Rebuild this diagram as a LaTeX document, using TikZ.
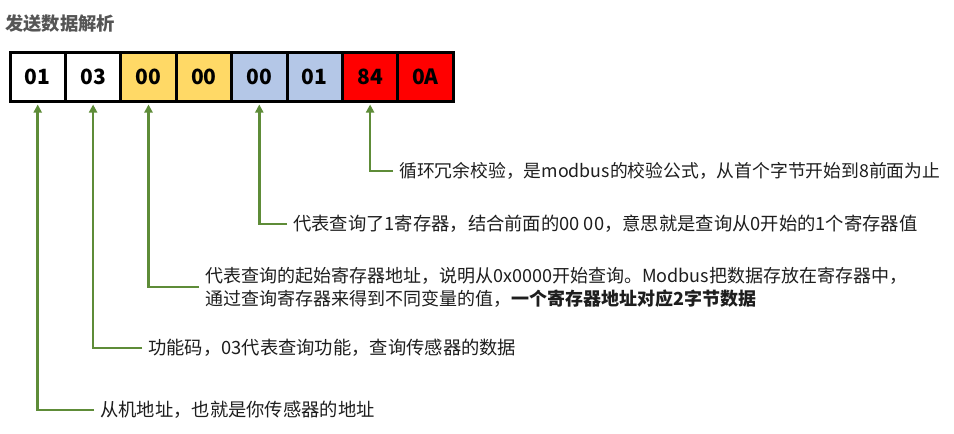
\documentclass[tikz,border=0pt]{standalone}
\usepackage{fontspec}
\setmainfont{Noto Sans CJK SC}
\usepackage{tikz}
\usetikzlibrary{arrows.meta,positioning,calc}

\definecolor{lineGreen}{RGB}{94,140,56}
\definecolor{byteYellow}{RGB}{255,217,102}
\definecolor{byteBlue}{RGB}{180,199,231}
\definecolor{byteRed}{RGB}{255,0,0}
\definecolor{textDark}{RGB}{30,30,30}
\definecolor{titleGray}{RGB}{85,85,85}

\begin{document}
\begin{tikzpicture}[
    x=1pt, y=-1pt,
    byte/.style={rectangle, draw, line width=3pt, minimum width=55.4pt, minimum height=49pt, font=\fontsize{21}{24}\selectfont\bfseries},
    note/.style={anchor=west, inner sep=0pt, text=textDark, font=\fontsize{18.3}{23}\selectfont, align=left},
    conn/.style={draw=lineGreen, line width=2.5pt, -{Triangle[length=8pt,width=8pt]}, shorten <=6pt, shorten >=2pt},
]
    \clip (0,0) rectangle (954,434);
    \fill[white] (0,0) rectangle (954,434);
    % title
    \node[anchor=west, inner sep=0pt, text=titleGray, font=\fontsize{18.3}{20}\selectfont\bfseries] (title) at (5,24) {发送数据解析};
    % byte frame
    \node[byte, fill=white] (b1) at (37.7,76.5) {01};
    \node[byte, fill=white] (b2) at (93.1,76.5) {03};
    \node[byte, fill=byteYellow] (b3) at (148.5,76.5) {00};
    \node[byte, fill=byteYellow] (b4) at (203.9,76.5) {00};
    \node[byte, fill=byteBlue] (b5) at (259.3,76.5) {00};
    \node[byte, fill=byteBlue] (b6) at (314.7,76.5) {01};
    \node[byte, fill=byteRed] (b7) at (370.1,76.5) {84};
    \node[byte, fill=byteRed] (b8) at (425.5,76.5) {0A};
    % notes
    \node[note, font=\fontsize{17.8}{23}\selectfont] (crc) at (399,171) {循环冗余校验，是modbus的校验公式，从首个字节开始到8前面为止};
    \node[note] (count) at (293,224) {代表查询了1寄存器，结合前面的00 00，意思就是查询从0开始的1个寄存器值};
    \node[note, font=\fontsize{18}{23}\selectfont] (start) at (205,287) {代表查询的起始寄存器地址，说明从0x0000开始查询。Modbus把数据存放在寄存器中，\\通过查询寄存器来得到不同变量的值，\textbf{一个寄存器地址对应2字节数据}};
    \node[note] (func) at (148,348) {功能码，03代表查询功能，查询传感器的数据};
    \node[note] (addr) at (100,410) {从机地址，也就是你传感器的地址};
    % connectors
    \draw[conn] (crc.west) -| (b7.south);
    \draw[conn] (count.west) -| (b5.south);
    \draw[conn] (start.west) -| (b3.south);
    \draw[conn] (func.west) -| (b2.south);
    \draw[conn] (addr.west) -| (b1.south);
\end{tikzpicture}
\end{document}
